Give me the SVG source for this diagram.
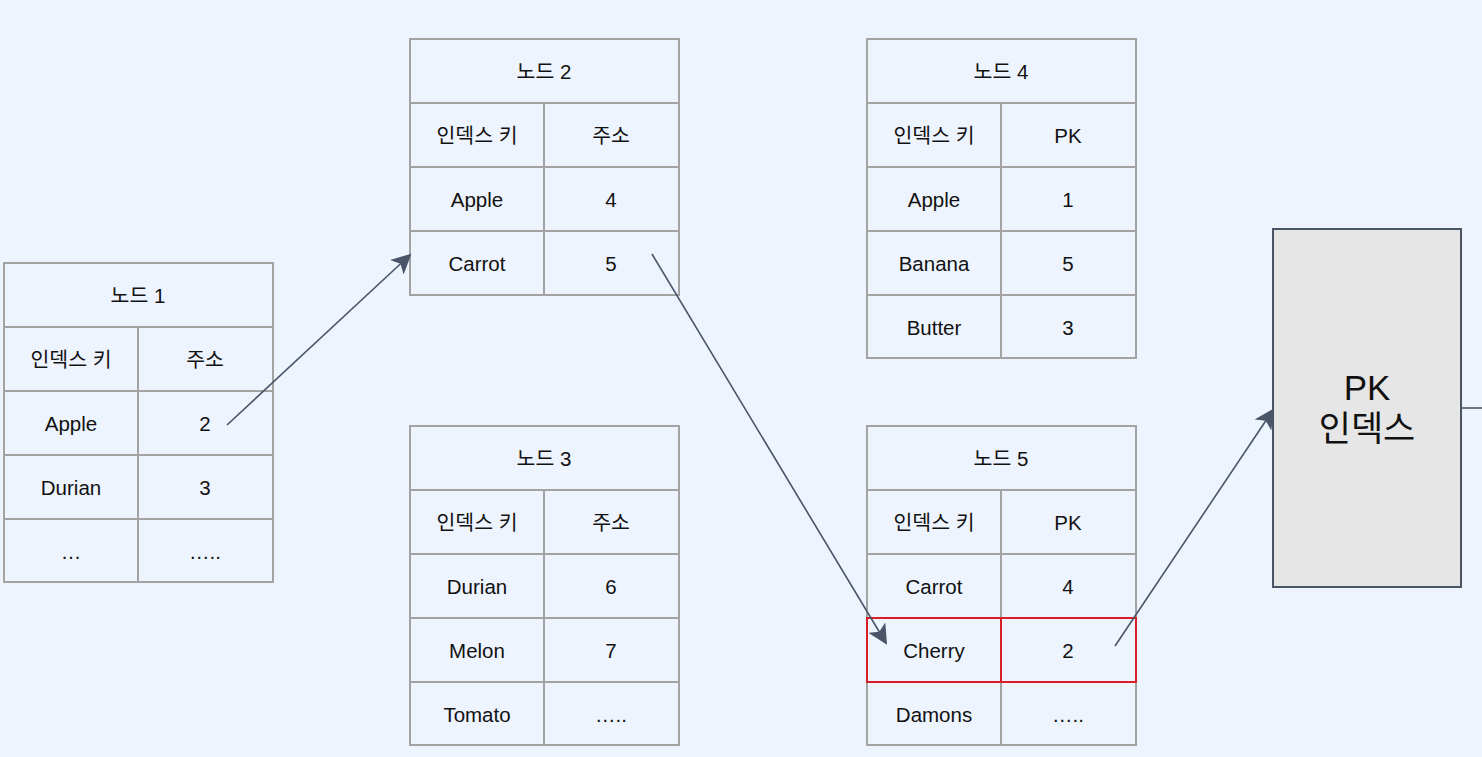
<svg xmlns="http://www.w3.org/2000/svg" width="1482" height="757" viewBox="0 0 1482 757">
<style>
.bg{fill:#eef4fe}
.cell{fill:#eef4fe;stroke:#a3a3a3;stroke-width:2}
.red{fill:none;stroke:#d81f26;stroke-width:2}
.t{font-family:"Liberation Sans","Noto Sans CJK KR",sans-serif;font-size:20.5px;fill:#111;text-anchor:middle;dominant-baseline:central}
.big{font-family:"Liberation Sans","Noto Sans CJK KR",sans-serif;font-size:35px;fill:#111;text-anchor:middle}
.conn{stroke:#4a5568;stroke-width:1.6;fill:none}
</style>
<defs>
<marker id="ahb" viewBox="0 0 10 10" refX="9" refY="5" markerWidth="20" markerHeight="20" markerUnits="userSpaceOnUse" orient="auto"><path d="M0,0 L10,5 L0,10 L2.5,5 z" fill="#4a5568"/></marker>
</defs>
<rect class="bg" x="0" y="0" width="1482" height="757"/>

<g id="node1">
<rect class="cell" x="4" y="263" width="269" height="64"/>
<rect class="cell" x="4" y="327" width="134" height="64"/><rect class="cell" x="138" y="327" width="135" height="64"/>
<rect class="cell" x="4" y="391" width="134" height="64"/><rect class="cell" x="138" y="391" width="135" height="64"/>
<rect class="cell" x="4" y="455" width="134" height="64"/><rect class="cell" x="138" y="455" width="135" height="64"/>
<rect class="cell" x="4" y="519" width="134" height="63"/><rect class="cell" x="138" y="519" width="135" height="63"/>
<text class="t" x="138" y="295">노드 1</text>
<text class="t" x="71" y="359">인덱스 키</text><text class="t" x="205" y="359">주소</text>
<text class="t" x="71" y="423">Apple</text><text class="t" x="205" y="423">2</text>
<text class="t" x="71" y="487">Durian</text><text class="t" x="205" y="487">3</text>
<text class="t" x="71" y="551">…</text><text class="t" x="205" y="551">…..</text>
</g>

<g id="node2">
<rect class="cell" x="410" y="39" width="269" height="64"/>
<rect class="cell" x="410" y="103" width="134" height="64"/><rect class="cell" x="544" y="103" width="135" height="64"/>
<rect class="cell" x="410" y="167" width="134" height="64"/><rect class="cell" x="544" y="167" width="135" height="64"/>
<rect class="cell" x="410" y="231" width="134" height="64"/><rect class="cell" x="544" y="231" width="135" height="64"/>
<text class="t" x="544" y="71">노드 2</text>
<text class="t" x="477" y="135">인덱스 키</text><text class="t" x="611" y="135">주소</text>
<text class="t" x="477" y="199">Apple</text><text class="t" x="611" y="199">4</text>
<text class="t" x="477" y="263">Carrot</text><text class="t" x="611" y="263">5</text>
</g>

<g id="node3">
<rect class="cell" x="410" y="426" width="269" height="64"/>
<rect class="cell" x="410" y="490" width="134" height="64"/><rect class="cell" x="544" y="490" width="135" height="64"/>
<rect class="cell" x="410" y="554" width="134" height="64"/><rect class="cell" x="544" y="554" width="135" height="64"/>
<rect class="cell" x="410" y="618" width="134" height="64"/><rect class="cell" x="544" y="618" width="135" height="64"/>
<rect class="cell" x="410" y="682" width="134" height="63"/><rect class="cell" x="544" y="682" width="135" height="63"/>
<text class="t" x="544" y="458">노드 3</text>
<text class="t" x="477" y="522">인덱스 키</text><text class="t" x="611" y="522">주소</text>
<text class="t" x="477" y="586">Durian</text><text class="t" x="611" y="586">6</text>
<text class="t" x="477" y="650">Melon</text><text class="t" x="611" y="650">7</text>
<text class="t" x="477" y="714">Tomato</text><text class="t" x="611" y="714">…..</text>
</g>

<g id="node4">
<rect class="cell" x="867" y="39" width="269" height="64"/>
<rect class="cell" x="867" y="103" width="134" height="64"/><rect class="cell" x="1001" y="103" width="135" height="64"/>
<rect class="cell" x="867" y="167" width="134" height="64"/><rect class="cell" x="1001" y="167" width="135" height="64"/>
<rect class="cell" x="867" y="231" width="134" height="64"/><rect class="cell" x="1001" y="231" width="135" height="64"/>
<rect class="cell" x="867" y="295" width="134" height="63"/><rect class="cell" x="1001" y="295" width="135" height="63"/>
<text class="t" x="1001" y="71">노드 4</text>
<text class="t" x="934" y="135">인덱스 키</text><text class="t" x="1068" y="135">PK</text>
<text class="t" x="934" y="199">Apple</text><text class="t" x="1068" y="199">1</text>
<text class="t" x="934" y="263">Banana</text><text class="t" x="1068" y="263">5</text>
<text class="t" x="934" y="327">Butter</text><text class="t" x="1068" y="327">3</text>
</g>

<g id="node5">
<rect class="cell" x="867" y="426" width="269" height="64"/>
<rect class="cell" x="867" y="490" width="134" height="64"/><rect class="cell" x="1001" y="490" width="135" height="64"/>
<rect class="cell" x="867" y="554" width="134" height="64"/><rect class="cell" x="1001" y="554" width="135" height="64"/>
<rect class="cell" x="867" y="618" width="134" height="64"/><rect class="cell" x="1001" y="618" width="135" height="64"/>
<rect class="cell" x="867" y="682" width="134" height="63"/><rect class="cell" x="1001" y="682" width="135" height="63"/>
<rect class="red" x="867" y="618" width="134" height="64"/><rect class="red" x="1001" y="618" width="135" height="64"/>
<text class="t" x="1001" y="458">노드 5</text>
<text class="t" x="934" y="522">인덱스 키</text><text class="t" x="1068" y="522">PK</text>
<text class="t" x="934" y="586">Carrot</text><text class="t" x="1068" y="586">4</text>
<text class="t" x="934" y="650">Cherry</text><text class="t" x="1068" y="650">2</text>
<text class="t" x="934" y="714">Damons</text><text class="t" x="1068" y="714">…..</text>
</g>

<g id="pkindex">
<rect x="1273" y="229" width="188" height="358" fill="#e6e6e6" stroke="#4a5568" stroke-width="2"/>
<text class="big" x="1367" y="400">PK</text>
<text class="big" x="1367" y="441">인덱스</text>
</g>

<g id="connectors">
<line class="conn" x1="227" y1="425" x2="410" y2="255" marker-end="url(#ahb)"/>
<line class="conn" x1="652" y1="254" x2="886" y2="643" marker-end="url(#ahb)"/>
<line class="conn" x1="1115" y1="646" x2="1273" y2="410" marker-end="url(#ahb)"/>
<line class="conn" x1="1461" y1="408" x2="1482" y2="408"/>
</g>
</svg>
